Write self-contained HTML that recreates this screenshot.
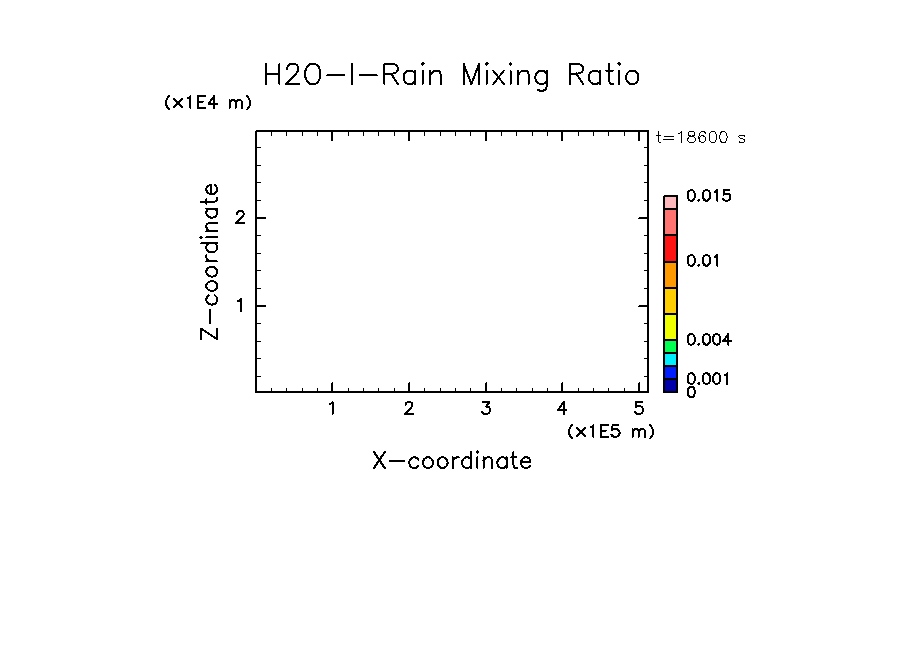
<!DOCTYPE html>
<html><head><meta charset="utf-8"><style>
html,body{margin:0;padding:0;background:#fff;width:904px;height:654px;overflow:hidden}
svg{display:block}
</style></head><body>
<svg width="904" height="654" viewBox="0 0 904 654">
<rect width="904" height="654" fill="#fff"/>
<g fill="none" stroke="#000">
<rect x="256" y="131" width="392" height="261" fill="none" stroke="#000" stroke-width="2"/>
<path d="M332 391V383M332 132V141M409 391V383M409 132V141M486 391V383M486 132V141M562 391V383M562 132V141M639 391V383M639 132V141M257 218H266M647 218H639M257 306H266M647 306H639" stroke-width="2" stroke-linecap="butt"/>
<g fill="#000" stroke="none"><rect x="332" y="382" width="1" height="1"/><rect x="409" y="382" width="1" height="1"/><rect x="486" y="382" width="1" height="1"/><rect x="562" y="382" width="1" height="1"/><rect x="639" y="382" width="1" height="1"/><rect x="638" y="218" width="1" height="1"/><rect x="638" y="306" width="1" height="1"/><rect x="255" y="130" width="1" height="1" fill="#fff"/></g>
<path d="M271.5 391V388M271.5 132V136M286.5 391V388M286.5 132V136M302.5 391V388M302.5 132V136M317.5 391V388M317.5 132V136M348.5 391V388M348.5 132V136M363.5 391V388M363.5 132V136M378.5 391V388M378.5 132V136M394.5 391V388M394.5 132V136M424.5 391V388M424.5 132V136M440.5 391V388M440.5 132V136M455.5 391V388M455.5 132V136M470.5 391V388M470.5 132V136M501.5 391V388M501.5 132V136M516.5 391V388M516.5 132V136M532.5 391V388M532.5 132V136M547.5 391V388M547.5 132V136M578.5 391V388M578.5 132V136M593.5 391V388M593.5 132V136M608.5 391V388M608.5 132V136M624.5 391V388M624.5 132V136M257 147.5H261M647 147.5H644M257 165.5H261M647 165.5H644M257 182.5H261M647 182.5H644M257 200.5H261M647 200.5H644M257 235.5H261M647 235.5H644M257 253.5H261M647 253.5H644M257 270.5H261M647 270.5H644M257 288.5H261M647 288.5H644M257 323.5H261M647 323.5H644M257 341.5H261M647 341.5H644M257 358.5H261M647 358.5H644M257 376.5H261M647 376.5H644" stroke-width="1" stroke-linecap="butt"/>
</g>
<rect x="664" y="196" width="13" height="13" fill="#FFB8BC" stroke="#000" stroke-width="2"/>
<rect x="664" y="209" width="13" height="26" fill="#FF7370" stroke="#000" stroke-width="2"/>
<rect x="664" y="235" width="13" height="27" fill="#FF1414" stroke="#000" stroke-width="2"/>
<rect x="664" y="262" width="13" height="26" fill="#FF9900" stroke="#000" stroke-width="2"/>
<rect x="664" y="288" width="13" height="26" fill="#FFCE00" stroke="#000" stroke-width="2"/>
<rect x="664" y="314" width="13" height="26" fill="#F0FF00" stroke="#000" stroke-width="2"/>
<rect x="664" y="340" width="13" height="13" fill="#00FF50" stroke="#000" stroke-width="2"/>
<rect x="664" y="353" width="13" height="13" fill="#00F0FF" stroke="#000" stroke-width="2"/>
<rect x="664" y="366" width="13" height="13" fill="#001EFF" stroke="#000" stroke-width="2"/>
<rect x="664" y="379" width="13" height="13" fill="#0000AA" stroke="#000" stroke-width="2"/>
<rect x="663" y="195" width="1" height="1" fill="#fff"/>
<g fill="none" stroke="#000" stroke-linecap="round" stroke-linejoin="round" shape-rendering="crispEdges">
<path d="M266.02 63.9 266.02 84.1M279.39 63.9 279.39 84.1M266.02 73.52 279.39 73.52M287.03 68.71 287.03 67.75 287.99 65.82 288.94 64.86 290.85 63.9 294.67 63.9 296.58 64.86 297.53 65.82 298.49 67.75 298.49 69.67 297.53 71.59 295.62 74.48 286.07 84.1 299.44 84.1M310.9 63.9 309 64.86 307.08 66.78 306.13 68.71 305.18 71.59 305.18 76.4 306.13 79.29 307.08 81.21 309 83.14 310.9 84.1 314.72 84.1 316.63 83.14 318.54 81.21 319.5 79.29 320.45 76.4 320.45 71.59 319.5 68.71 318.54 66.78 316.63 64.86 314.72 63.9 310.9 63.9M327.14 75.44 344.33 75.44M351.97 63.9 351.97 84.1M359.61 75.44 376.8 75.44M384.44 63.9 384.44 84.1M384.44 63.9 393.03 63.9 395.9 64.86 396.86 65.82 397.81 67.75 397.81 69.67 396.86 71.59 395.9 72.56 393.03 73.52 384.44 73.52M391.12 73.52 397.81 84.1M415 70.63 415 84.1M415 73.52 413.09 71.59 411.18 70.63 408.31 70.63 406.4 71.59 404.5 73.52 403.54 76.4 403.54 78.33 404.5 81.21 406.4 83.14 408.31 84.1 411.18 84.1 413.09 83.14 415 81.21M421.68 63.9 422.64 64.86 423.59 63.9 422.64 62.94 421.68 63.9M422.64 70.63 422.64 84.1M430.28 70.63 430.28 84.1M430.28 74.48 433.14 71.59 435.05 70.63 437.92 70.63 439.83 71.59 440.78 74.48 440.78 84.1M463.7 63.9 463.7 84.1M463.7 63.9 471.34 84.1M478.99 63.9 471.34 84.1M478.99 63.9 478.99 84.1M485.67 63.9 486.62 64.86 487.58 63.9 486.62 62.94 485.67 63.9M486.62 70.63 486.62 84.1M493.31 70.63 503.81 84.1M503.81 70.63 493.31 84.1M509.54 63.9 510.5 64.86 511.45 63.9 510.5 62.94 509.54 63.9M510.5 70.63 510.5 84.1M518.14 70.63 518.14 84.1M518.14 74.48 521 71.59 522.91 70.63 525.78 70.63 527.69 71.59 528.64 74.48 528.64 84.1M546.79 70.63 546.79 86.02 545.84 88.91 544.88 89.87 542.97 90.83 540.11 90.83 538.19 89.87M546.79 73.52 544.88 71.59 542.97 70.63 540.11 70.63 538.19 71.59 536.28 73.52 535.33 76.4 535.33 78.33 536.28 81.21 538.19 83.14 540.11 84.1 542.97 84.1 544.88 83.14 546.79 81.21M569.71 63.9 569.71 84.1M569.71 63.9 578.3 63.9 581.17 64.86 582.12 65.82 583.08 67.75 583.08 69.67 582.12 71.59 581.17 72.56 578.3 73.52 569.71 73.52M576.39 73.52 583.08 84.1M600.27 70.63 600.27 84.1M600.27 73.52 598.36 71.59 596.45 70.63 593.59 70.63 591.67 71.59 589.76 73.52 588.81 76.4 588.81 78.33 589.76 81.21 591.67 83.14 593.59 84.1 596.45 84.1 598.36 83.14 600.27 81.21M608.87 63.9 608.87 80.25 609.82 83.14 611.73 84.1 613.64 84.1M606 70.63 612.68 70.63M618.41 63.9 619.37 64.86 620.33 63.9 619.37 62.94 618.41 63.9M619.37 70.63 619.37 84.1M630.83 70.63 628.92 71.59 627.01 73.52 626.05 76.4 626.05 78.33 627.01 81.21 628.92 83.14 630.83 84.1 633.69 84.1 635.61 83.14 637.51 81.21 638.47 78.33 638.47 76.4 637.51 73.52 635.61 71.59 633.69 70.63 630.83 70.63" stroke-width="2.0"/>
<path d="M169.06 96.04 168.22 96.88 167.37 98.14 166.52 99.82 166.1 101.92 166.1 103.6 166.52 105.7 167.37 107.38 168.22 108.64 169.06 109.48M173.99 99.06 181.99 106.9M181.99 99.06 173.99 106.9M187.56 98.28 188.72 97.72 190.46 96.04 190.46 107.8M198 96.04 198 107.8M198 96.04 205.54 96.04M198 101.64 202.64 101.64M198 107.8 205.54 107.8M214.24 96.04 208.44 103.88 217.14 103.88M214.24 96.04 214.24 107.8M229.61 99.96 229.61 107.8M229.61 102.2 231.27 100.52 232.38 99.96 234.04 99.96 235.15 100.52 235.7 102.2 235.7 107.8M235.7 102.2 237.36 100.52 238.47 99.96 240.13 99.96 241.24 100.52 241.8 102.2 241.8 107.8M247.01 96.04 247.86 96.88 248.7 98.14 249.55 99.82 249.97 101.92 249.97 103.6 249.55 105.7 248.7 107.38 247.86 108.64 247.01 109.48" stroke-width="2.0"/>
<path d="M572.06 425.04 571.22 425.88 570.37 427.14 569.52 428.82 569.1 430.92 569.1 432.6 569.52 434.7 570.37 436.38 571.22 437.64 572.06 438.48M576.99 428.06 584.99 435.9M584.99 428.06 576.99 435.9M590.56 427.28 591.72 426.72 593.46 425.04 593.46 436.8M601 425.04 601 436.8M601 425.04 608.54 425.04M601 430.64 605.64 430.64M601 436.8 608.54 436.8M618.4 425.04 612.6 425.04 612.02 430.08 612.6 429.52 614.34 428.96 616.08 428.96 617.82 429.52 618.98 430.64 619.56 432.32 619.56 433.44 618.98 435.12 617.82 436.24 616.08 436.8 614.34 436.8 612.6 436.24 612.02 435.68 611.44 434.56M632.61 428.96 632.61 436.8M632.61 431.2 634.27 429.52 635.38 428.96 637.04 428.96 638.15 429.52 638.7 431.2 638.7 436.8M638.7 431.2 640.36 429.52 641.47 428.96 643.13 428.96 644.24 429.52 644.8 431.2 644.8 436.8M650.01 425.04 650.86 425.88 651.7 427.14 652.55 428.82 652.97 430.92 652.97 432.6 652.55 434.7 651.7 436.38 650.86 437.64 650.01 438.48" stroke-width="2.0"/>
<path d="M201.03 328.67 217.2 339.24M201.03 339.24 201.03 328.67M217.2 339.24 217.2 328.67M210.27 323.38 210.27 309.79M208.73 295.44 207.19 296.95 206.42 298.46 206.42 300.73 207.19 302.24 208.73 303.75 211.04 304.5 212.58 304.5 214.89 303.75 216.43 302.24 217.2 300.73 217.2 298.46 216.43 296.95 214.89 295.44M206.42 287.14 207.19 288.65 208.73 290.16 211.04 290.92 212.58 290.92 214.89 290.16 216.43 288.65 217.2 287.14 217.2 284.88 216.43 283.37 214.89 281.86 212.58 281.1 211.04 281.1 208.73 281.86 207.19 283.37 206.42 284.88 206.42 287.14M206.42 272.8 207.19 274.31 208.73 275.81 211.04 276.57 212.58 276.57 214.89 275.81 216.43 274.31 217.2 272.8 217.2 270.53 216.43 269.02 214.89 267.51 212.58 266.75 211.04 266.75 208.73 267.51 207.19 269.02 206.42 270.53 206.42 272.8M206.42 261.47 217.2 261.47M211.04 261.47 208.73 260.72 207.19 259.2 206.42 257.69 206.42 255.43M201.03 243.35 217.2 243.35M208.73 243.35 207.19 244.86 206.42 246.37 206.42 248.63 207.19 250.14 208.73 251.66 211.04 252.41 212.58 252.41 214.89 251.66 216.43 250.14 217.2 248.63 217.2 246.37 216.43 244.86 214.89 243.35M201.03 238.06 201.8 237.31 201.03 236.56 200.26 237.31 201.03 238.06M206.42 237.31 217.2 237.31M206.42 231.27 217.2 231.27M209.5 231.27 207.19 229 206.42 227.5 206.42 225.23 207.19 223.72 209.5 222.97 217.2 222.97M206.42 208.62 217.2 208.62M208.73 208.62 207.19 210.13 206.42 211.64 206.42 213.91 207.19 215.42 208.73 216.93 211.04 217.68 212.58 217.68 214.89 216.93 216.43 215.42 217.2 213.91 217.2 211.64 216.43 210.13 214.89 208.62M201.03 201.82 214.12 201.82 216.43 201.07 217.2 199.56 217.2 198.05M206.42 204.09 206.42 198.81M211.04 194.28 211.04 185.22 209.5 185.22 207.96 185.97 207.19 186.72 206.42 188.23 206.42 190.5 207.19 192.01 208.73 193.52 211.04 194.28 212.58 194.28 214.89 193.52 216.43 192.01 217.2 190.5 217.2 188.23 216.43 186.72 214.89 185.22" stroke-width="2.0"/>
<path d="M374 452.04 384.72 468M384.72 452.04 374 468M390.08 461.16 403.87 461.16M418.43 459.64 416.89 458.12 415.36 457.36 413.06 457.36 411.53 458.12 410 459.64 409.23 461.92 409.23 463.44 410 465.72 411.53 467.24 413.06 468 415.36 468 416.89 467.24 418.43 465.72M426.85 457.36 425.32 458.12 423.79 459.64 423.02 461.92 423.02 463.44 423.79 465.72 425.32 467.24 426.85 468 429.15 468 430.68 467.24 432.21 465.72 432.98 463.44 432.98 461.92 432.21 459.64 430.68 458.12 429.15 457.36 426.85 457.36M441.41 457.36 439.87 458.12 438.34 459.64 437.58 461.92 437.58 463.44 438.34 465.72 439.87 467.24 441.41 468 443.7 468 445.24 467.24 446.77 465.72 447.53 463.44 447.53 461.92 446.77 459.64 445.24 458.12 443.7 457.36 441.41 457.36M452.9 457.36 452.9 468M452.9 461.92 453.66 459.64 455.19 458.12 456.73 457.36 459.02 457.36M471.28 452.04 471.28 468M471.28 459.64 469.75 458.12 468.22 457.36 465.92 457.36 464.39 458.12 462.85 459.64 462.09 461.92 462.09 463.44 462.85 465.72 464.39 467.24 465.92 468 468.22 468 469.75 467.24 471.28 465.72M476.64 452.04 477.41 452.8 478.17 452.04 477.41 451.28 476.64 452.04M477.41 457.36 477.41 468M483.54 457.36 483.54 468M483.54 460.4 485.83 458.12 487.37 457.36 489.66 457.36 491.2 458.12 491.96 460.4 491.96 468M506.52 457.36 506.52 468M506.52 459.64 504.98 458.12 503.45 457.36 501.15 457.36 499.62 458.12 498.09 459.64 497.32 461.92 497.32 463.44 498.09 465.72 499.62 467.24 501.15 468 503.45 468 504.98 467.24 506.52 465.72M513.41 452.04 513.41 464.96 514.18 467.24 515.71 468 517.24 468M511.11 457.36 516.47 457.36M521.07 461.92 530.26 461.92 530.26 460.4 529.5 458.88 528.73 458.12 527.2 457.36 524.9 457.36 523.37 458.12 521.84 459.64 521.07 461.92 521.07 463.44 521.84 465.72 523.37 467.24 524.9 468 527.2 468 528.73 467.24 530.26 465.72" stroke-width="2.0"/>
<path d="M329.68 404.31 330.84 403.74 332.58 402.03 332.58 414" stroke-width="2.0"/>
<path d="M405.52 404.88 405.52 404.31 406.1 403.17 406.68 402.6 407.84 402.03 410.16 402.03 411.32 402.6 411.9 403.17 412.48 404.31 412.48 405.45 411.9 406.59 410.74 408.3 404.94 414 413.06 414" stroke-width="2.0"/>
<path d="M483.1 402.03 489.48 402.03 486 406.59 487.74 406.59 488.9 407.16 489.48 407.73 490.06 409.44 490.06 410.58 489.48 412.29 488.32 413.43 486.58 414 484.84 414 483.1 413.43 482.52 412.86 481.94 411.72" stroke-width="2.0"/>
<path d="M563.74 402.03 557.94 410.01 566.64 410.01M563.74 402.03 563.74 414" stroke-width="2.0"/>
<path d="M641.9 402.03 636.1 402.03 635.52 407.16 636.1 406.59 637.84 406.02 639.58 406.02 641.32 406.59 642.48 407.73 643.06 409.44 643.06 410.58 642.48 412.29 641.32 413.43 639.58 414 637.84 414 636.1 413.43 635.52 412.86 634.94 411.72" stroke-width="2.0"/>
<path d="M236.88 213.88 236.88 213.31 237.45 212.17 238.02 211.6 239.16 211.03 241.44 211.03 242.58 211.6 243.15 212.17 243.72 213.31 243.72 214.45 243.15 215.59 242.01 217.3 236.31 223 244.29 223" stroke-width="2.0"/>
<path d="M238.02 301.31 239.16 300.74 240.87 299.03 240.87 311" stroke-width="2.0"/>
<path d="M658.09 131.58 658.09 140.42 658.62 141.98 659.69 142.5 660.75 142.5M656.5 135.22 660.22 135.22M663.93 136.26 673.49 136.26M663.93 139.38 673.49 139.38M678.8 133.66 679.86 133.14 681.46 131.58 681.46 142.5M690.48 131.58 688.89 132.1 688.36 133.14 688.36 134.18 688.89 135.22 689.95 135.74 692.08 136.26 693.67 136.78 694.73 137.82 695.26 138.86 695.26 140.42 694.73 141.46 694.2 141.98 692.61 142.5 690.48 142.5 688.89 141.98 688.36 141.46 687.83 140.42 687.83 138.86 688.36 137.82 689.42 136.78 691.01 136.26 693.14 135.74 694.2 135.22 694.73 134.18 694.73 133.14 694.2 132.1 692.61 131.58 690.48 131.58M705.35 133.14 704.82 132.1 703.23 131.58 702.17 131.58 700.57 132.1 699.51 133.66 698.98 136.26 698.98 138.86 699.51 140.94 700.57 141.98 702.17 142.5 702.7 142.5 704.29 141.98 705.35 140.94 705.88 139.38 705.88 138.86 705.35 137.3 704.29 136.26 702.7 135.74 702.17 135.74 700.57 136.26 699.51 137.3 698.98 138.86M712.25 131.58 710.66 132.1 709.6 133.66 709.07 136.26 709.07 137.82 709.6 140.42 710.66 141.98 712.25 142.5 713.32 142.5 714.91 141.98 715.97 140.42 716.5 137.82 716.5 136.26 715.97 133.66 714.91 132.1 713.32 131.58 712.25 131.58M722.88 131.58 721.28 132.1 720.22 133.66 719.69 136.26 719.69 137.82 720.22 140.42 721.28 141.98 722.88 142.5 723.94 142.5 725.53 141.98 726.59 140.42 727.12 137.82 727.12 136.26 726.59 133.66 725.53 132.1 723.94 131.58 722.88 131.58M744.65 136.78 744.12 135.74 742.52 135.22 740.93 135.22 739.34 135.74 738.8 136.78 739.34 137.82 740.4 138.34 743.05 138.86 744.12 139.38 744.65 140.42 744.65 140.94 744.12 141.98 742.52 142.5 740.93 142.5 739.34 141.98 738.8 140.94" stroke-width="1.0"/>
<path d="M690.76 190.2 689.24 190.7 688.23 192.2 687.72 194.7 687.72 196.2 688.23 198.7 689.24 200.2 690.76 200.7 691.78 200.7 693.3 200.2 694.31 198.7 694.82 196.2 694.82 194.7 694.31 192.2 693.3 190.7 691.78 190.2 690.76 190.2M698.88 199.7 698.37 200.2 698.88 200.7 699.38 200.2 698.88 199.7M705.97 190.2 704.45 190.7 703.44 192.2 702.93 194.7 702.93 196.2 703.44 198.7 704.45 200.2 705.97 200.7 706.99 200.7 708.51 200.2 709.52 198.7 710.03 196.2 710.03 194.7 709.52 192.2 708.51 190.7 706.99 190.2 705.97 190.2M714.59 192.2 715.61 191.7 717.13 190.2 717.13 200.7M729.3 190.2 724.23 190.2 723.72 194.7 724.23 194.2 725.75 193.7 727.27 193.7 728.79 194.2 729.8 195.2 730.31 196.7 730.31 197.7 729.8 199.2 728.79 200.2 727.27 200.7 725.75 200.7 724.23 200.2 723.72 199.7 723.21 198.7" stroke-width="2.0"/>
<path d="M690.76 255.2 689.24 255.7 688.23 257.2 687.72 259.7 687.72 261.2 688.23 263.7 689.24 265.2 690.76 265.7 691.78 265.7 693.3 265.2 694.31 263.7 694.82 261.2 694.82 259.7 694.31 257.2 693.3 255.7 691.78 255.2 690.76 255.2M698.88 264.7 698.37 265.2 698.88 265.7 699.38 265.2 698.88 264.7M705.97 255.2 704.45 255.7 703.44 257.2 702.93 259.7 702.93 261.2 703.44 263.7 704.45 265.2 705.97 265.7 706.99 265.7 708.51 265.2 709.52 263.7 710.03 261.2 710.03 259.7 709.52 257.2 708.51 255.7 706.99 255.2 705.97 255.2M714.59 257.2 715.61 256.7 717.13 255.2 717.13 265.7" stroke-width="2.0"/>
<path d="M690.76 334.15 689.24 334.65 688.23 336.15 687.72 338.65 687.72 340.15 688.23 342.65 689.24 344.15 690.76 344.65 691.78 344.65 693.3 344.15 694.31 342.65 694.82 340.15 694.82 338.65 694.31 336.15 693.3 334.65 691.78 334.15 690.76 334.15M698.88 343.65 698.37 344.15 698.88 344.65 699.38 344.15 698.88 343.65M705.97 334.15 704.45 334.65 703.44 336.15 702.93 338.65 702.93 340.15 703.44 342.65 704.45 344.15 705.97 344.65 706.99 344.65 708.51 344.15 709.52 342.65 710.03 340.15 710.03 338.65 709.52 336.15 708.51 334.65 706.99 334.15 705.97 334.15M716.11 334.15 714.59 334.65 713.58 336.15 713.07 338.65 713.07 340.15 713.58 342.65 714.59 344.15 716.11 344.65 717.13 344.65 718.65 344.15 719.66 342.65 720.17 340.15 720.17 338.65 719.66 336.15 718.65 334.65 717.13 334.15 716.11 334.15M728.28 334.15 723.21 341.15 730.82 341.15M728.28 334.15 728.28 344.65" stroke-width="2.0"/>
<path d="M690.76 373.3 689.24 373.8 688.23 375.3 687.72 377.8 687.72 379.3 688.23 381.8 689.24 383.3 690.76 383.8 691.78 383.8 693.3 383.3 694.31 381.8 694.82 379.3 694.82 377.8 694.31 375.3 693.3 373.8 691.78 373.3 690.76 373.3M698.88 382.8 698.37 383.3 698.88 383.8 699.38 383.3 698.88 382.8M705.97 373.3 704.45 373.8 703.44 375.3 702.93 377.8 702.93 379.3 703.44 381.8 704.45 383.3 705.97 383.8 706.99 383.8 708.51 383.3 709.52 381.8 710.03 379.3 710.03 377.8 709.52 375.3 708.51 373.8 706.99 373.3 705.97 373.3M716.11 373.3 714.59 373.8 713.58 375.3 713.07 377.8 713.07 379.3 713.58 381.8 714.59 383.3 716.11 383.8 717.13 383.8 718.65 383.3 719.66 381.8 720.17 379.3 720.17 377.8 719.66 375.3 718.65 373.8 717.13 373.3 716.11 373.3M724.73 375.3 725.75 374.8 727.27 373.3 727.27 383.8" stroke-width="2.0"/>
<path d="M690.76 386.8 689.24 387.3 688.23 388.8 687.72 391.3 687.72 392.8 688.23 395.3 689.24 396.8 690.76 397.3 691.78 397.3 693.3 396.8 694.31 395.3 694.82 392.8 694.82 391.3 694.31 388.8 693.3 387.3 691.78 386.8 690.76 386.8" stroke-width="2.0"/>
</g>
</svg>
</body></html>
